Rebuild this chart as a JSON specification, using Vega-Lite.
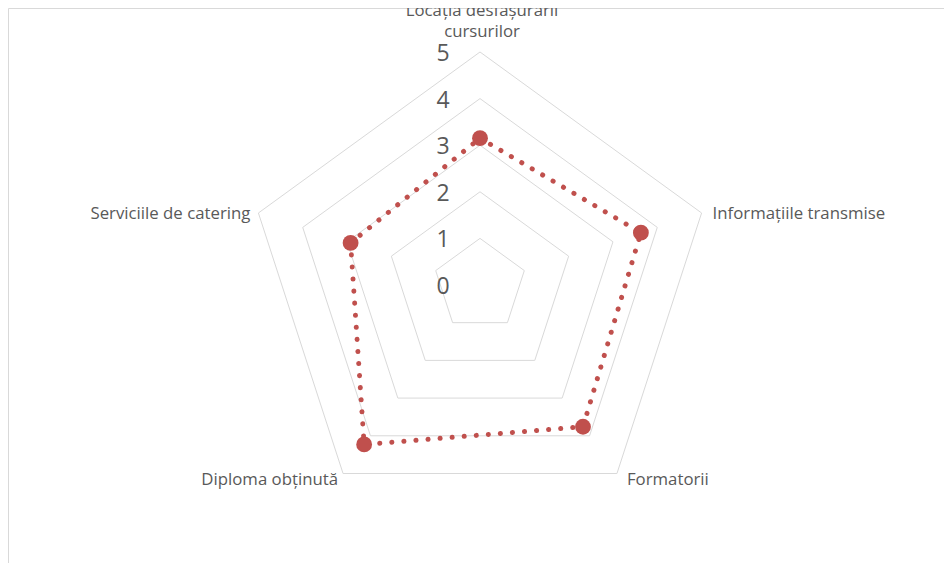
{
  "$schema": "https://vega.github.io/schema/vega-lite/v6.json",
  "width": 936,
  "height": 555,
  "autosize": {"type": "none"},
  "padding": {"left": 8, "top": 8, "right": 0, "bottom": 0},
  "background": "white",
  "config": {"view": {"stroke": "#d9d9d9", "strokeWidth": 1}},
  "datasets": {
    "ratings": [
      {"criteriu": "Locația desfășurării cursurilor", "idx": 0, "scor": 3.15},
      {"criteriu": "Informațiile transmise", "idx": 1, "scor": 3.63},
      {"criteriu": "Formatorii", "idx": 2, "scor": 3.76},
      {"criteriu": "Diploma obținută", "idx": 3, "scor": 4.23},
      {"criteriu": "Serviciile de catering", "idx": 4, "scor": 2.92}
    ],
    "grid": [
      {"level": 1, "idx": [0, 1, 2, 3, 4]},
      {"level": 2, "idx": [0, 1, 2, 3, 4]},
      {"level": 3, "idx": [0, 1, 2, 3, 4]},
      {"level": 4, "idx": [0, 1, 2, 3, 4]},
      {"level": 5, "idx": [0, 1, 2, 3, 4]}
    ],
    "levels": [
      {"level": 0}, {"level": 1}, {"level": 2}, {"level": 3}, {"level": 4}, {"level": 5}
    ]
  },
  "encoding": {
    "x": {"field": "px", "type": "quantitative", "scale": {"domain": [-10.129, 9.957], "nice": false, "zero": false}, "axis": null},
    "y": {"field": "py", "type": "quantitative", "scale": {"domain": [-5.966, 5.944], "nice": false, "zero": false}, "axis": null}
  },
  "layer": [
    {
      "data": {"name": "grid"},
      "transform": [
        {"flatten": ["idx"]},
        {"calculate": "datum.level * sin(datum.idx * 2 * PI / 5)", "as": "px"},
        {"calculate": "datum.level * cos(datum.idx * 2 * PI / 5)", "as": "py"}
      ],
      "mark": {"type": "line", "interpolate": "linear-closed", "color": "#d9d9d9", "strokeWidth": 1},
      "encoding": {
        "detail": {"field": "level", "type": "nominal"},
        "order": {"field": "idx", "type": "quantitative"}
      }
    },
    {
      "data": {"name": "ratings"},
      "transform": [
        {"calculate": "datum.scor * sin(datum.idx * 2 * PI / 5)", "as": "px"},
        {"calculate": "datum.scor * cos(datum.idx * 2 * PI / 5)", "as": "py"}
      ],
      "mark": {"type": "line", "interpolate": "linear-closed", "color": "#c0504d", "strokeWidth": 5, "strokeDash": [0.1, 12], "strokeCap": "round"},
      "encoding": {
        "order": {"field": "idx", "type": "quantitative"}
      }
    },
    {
      "data": {"name": "ratings"},
      "transform": [
        {"calculate": "datum.scor * sin(datum.idx * 2 * PI / 5)", "as": "px"},
        {"calculate": "datum.scor * cos(datum.idx * 2 * PI / 5)", "as": "py"}
      ],
      "mark": {"type": "point", "filled": true, "size": 250, "color": "#c0504d", "opacity": 1},
      "encoding": {}
    },
    {
      "data": {"name": "levels"},
      "transform": [
        {"calculate": "0", "as": "px"},
        {"calculate": "datum.level", "as": "py"}
      ],
      "mark": {"type": "text", "dx": -37, "dy": 2, "fontSize": 23, "font": "Open Sans", "color": "#595959", "align": "center", "baseline": "middle"},
      "encoding": {"text": {"field": "level", "type": "quantitative"}}
    },
    {
      "data": {"name": "ratings"},
      "transform": [
        {"filter": "datum.idx == 0"},
        {"calculate": "5 * sin(datum.idx * 2 * PI / 5)", "as": "px"},
        {"calculate": "5 * cos(datum.idx * 2 * PI / 5)", "as": "py"},
        {"calculate": "replace(datum.criteriu, 'ării ', 'ării\\n')", "as": "eticheta"}
      ],
      "mark": {"type": "text", "clip": true, "align": "center", "baseline": "middle", "dx": 2, "dy": -41, "lineBreak": "\n", "lineHeight": 21, "fontSize": 16.8, "font": "Open Sans", "color": "#595959"},
      "encoding": {"text": {"field": "eticheta", "type": "nominal"}}
    },
    {
      "data": {"name": "ratings"},
      "transform": [
        {"filter": "datum.idx == 1"},
        {"calculate": "5 * sin(datum.idx * 2 * PI / 5)", "as": "px"},
        {"calculate": "5 * cos(datum.idx * 2 * PI / 5)", "as": "py"}
      ],
      "mark": {"type": "text", "align": "left", "baseline": "middle", "dx": 11, "dy": 1, "fontSize": 16.8, "font": "Open Sans", "color": "#595959"},
      "encoding": {"text": {"field": "criteriu", "type": "nominal"}}
    },
    {
      "data": {"name": "ratings"},
      "transform": [
        {"filter": "datum.idx == 2"},
        {"calculate": "5 * sin(datum.idx * 2 * PI / 5)", "as": "px"},
        {"calculate": "5 * cos(datum.idx * 2 * PI / 5)", "as": "py"}
      ],
      "mark": {"type": "text", "align": "left", "baseline": "middle", "dx": 10, "dy": 7, "fontSize": 16.8, "font": "Open Sans", "color": "#595959"},
      "encoding": {"text": {"field": "criteriu", "type": "nominal"}}
    },
    {
      "data": {"name": "ratings"},
      "transform": [
        {"filter": "datum.idx == 3"},
        {"calculate": "5 * sin(datum.idx * 2 * PI / 5)", "as": "px"},
        {"calculate": "5 * cos(datum.idx * 2 * PI / 5)", "as": "py"}
      ],
      "mark": {"type": "text", "align": "right", "baseline": "middle", "dx": -5, "dy": 7, "fontSize": 16.8, "font": "Open Sans", "color": "#595959"},
      "encoding": {"text": {"field": "criteriu", "type": "nominal"}}
    },
    {
      "data": {"name": "ratings"},
      "transform": [
        {"filter": "datum.idx == 4"},
        {"calculate": "5 * sin(datum.idx * 2 * PI / 5)", "as": "px"},
        {"calculate": "5 * cos(datum.idx * 2 * PI / 5)", "as": "py"}
      ],
      "mark": {"type": "text", "align": "right", "baseline": "middle", "dx": -8, "dy": 1, "fontSize": 16.8, "font": "Open Sans", "color": "#595959"},
      "encoding": {"text": {"field": "criteriu", "type": "nominal"}}
    }
  ]
}
